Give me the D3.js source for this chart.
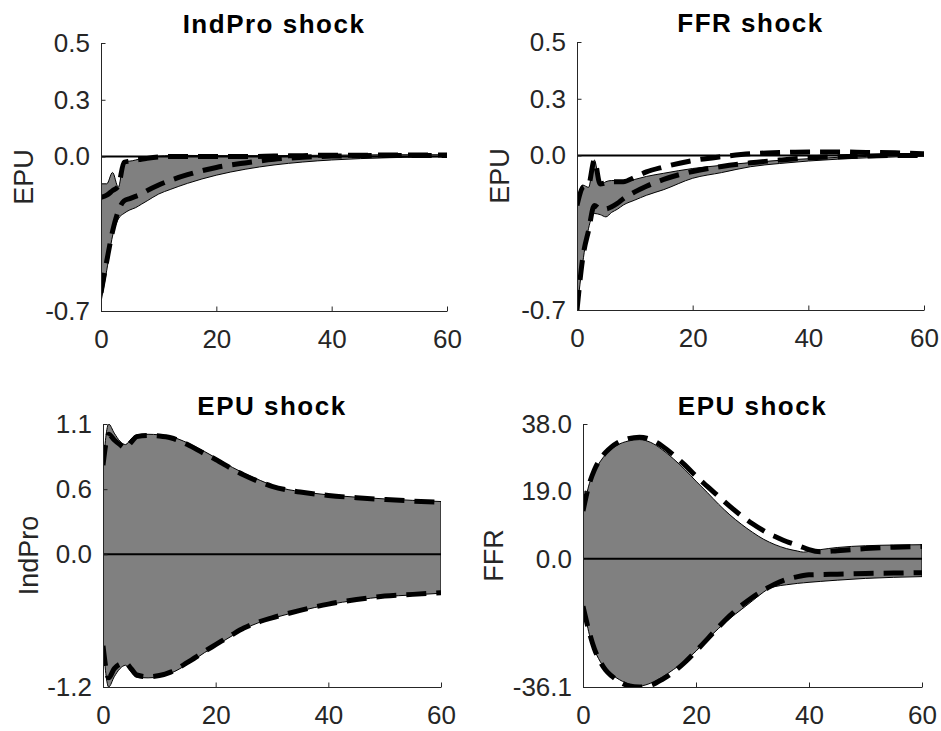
<!DOCTYPE html>
<html>
<head>
<meta charset="utf-8">
<script src="https://cdn.jsdelivr.net/npm/d3@7"></script>
<style>
  body { margin: 0; background: #fff; }
  text { font-family: "Liberation Sans", Arial, sans-serif; }
</style>
</head>
<body>
<div id="root"></div>
<script>
// horizons (months)
var hTop = [0, 1, 2, 3, 4, 5, 6, 7, 8, 10, 12, 15, 20, 25, 30, 35, 40, 45, 50, 55, 60];
var hIp = [0, 1, 2, 3, 4, 5, 6, 8, 10, 12, 15, 18, 20, 23, 25, 28, 30, 33, 35, 40, 45, 50, 55, 60];
var hFfr = [0, 1, 2, 3, 4, 5, 6, 8, 10, 12, 14, 16, 18, 20, 22, 24, 26, 28, 30, 32, 33, 34, 36, 38, 39, 40, 42, 45, 50, 55, 60];

// IndPro shock -> EPU
var ipEpuBandHi = [-0.12, -0.12, -0.07, -0.135, -0.02, -0.02, -0.015, -0.01, -0.005, 0.002, 0.004, 0.005, 0.004, 0.004, 0.004, 0.005, 0.006, 0.007, 0.008, 0.008, 0.008];
var ipEpuBandLo = [-0.64, -0.50, -0.35, -0.275, -0.25, -0.235, -0.225, -0.21, -0.195, -0.165, -0.145, -0.118, -0.082, -0.056, -0.037, -0.024, -0.015, -0.009, -0.005, -0.002, 0.0];
var ipEpuDashHi = [-0.18, -0.17, -0.15, -0.13, -0.025, -0.02, -0.015, -0.012, -0.008, -0.002, 0.0, 0.0, 0.0, 0.0, 0.002, 0.004, 0.006, 0.006, 0.007, 0.007, 0.007];
var ipEpuDashLo = [-0.60, -0.46, -0.33, -0.24, -0.195, -0.185, -0.175, -0.165, -0.15, -0.125, -0.105, -0.08, -0.048, -0.028, -0.012, -0.003, 0.002, 0.004, 0.005, 0.005, 0.005];

// FFR shock -> EPU
var ffrEpuBandHi = [-0.20, -0.13, -0.14, -0.02, -0.13, -0.115, -0.11, -0.11, -0.115, -0.105, -0.092, -0.078, -0.057, -0.043, -0.031, -0.021, -0.014, -0.008, -0.004, 0.0, 0.002];
var ffrEpuBandLo = [-0.68, -0.47, -0.32, -0.255, -0.26, -0.27, -0.25, -0.236, -0.218, -0.196, -0.175, -0.15, -0.10, -0.075, -0.049, -0.035, -0.024, -0.016, -0.01, -0.006, -0.003];
var ffrEpuDashHi = [-0.22, -0.14, -0.13, -0.02, -0.125, -0.12, -0.115, -0.115, -0.115, -0.095, -0.072, -0.05, -0.022, -0.005, 0.008, 0.013, 0.016, 0.016, 0.014, 0.012, 0.008];
var ffrEpuDashLo = [-0.68, -0.45, -0.33, -0.22, -0.235, -0.235, -0.225, -0.21, -0.19, -0.16, -0.135, -0.105, -0.07, -0.048, -0.032, -0.02, -0.01, -0.005, -0.002, 0.0, 0.0];

// EPU shock -> IndPro
var epuIpBandHi = [0.77, 1.14, 1.06, 0.99, 0.96, 1.01, 1.045, 1.05, 1.045, 1.03, 0.975, 0.90, 0.845, 0.76, 0.71, 0.645, 0.605, 0.565, 0.55, 0.52, 0.50, 0.485, 0.472, 0.462];
var epuIpBandLo = [-0.78, -1.16, -1.07, -1.0, -0.97, -1.03, -1.075, -1.08, -1.07, -1.04, -0.96, -0.86, -0.80, -0.71, -0.655, -0.59, -0.56, -0.52, -0.495, -0.44, -0.40, -0.37, -0.355, -0.34];
var epuIpDashHi = [0.78, 1.05, 1.0, 0.96, 0.93, 0.98, 1.03, 1.04, 1.035, 1.02, 0.96, 0.88, 0.83, 0.745, 0.695, 0.63, 0.595, 0.56, 0.545, 0.515, 0.495, 0.48, 0.466, 0.455];
var epuIpDashLo = [-0.80, -1.08, -1.0, -0.96, -0.95, -1.0, -1.055, -1.07, -1.06, -1.03, -0.945, -0.85, -0.79, -0.70, -0.645, -0.585, -0.555, -0.515, -0.49, -0.435, -0.395, -0.365, -0.35, -0.335];

// EPU shock -> FFR
var epuFfrBandHi = [12.9, 20.5, 24.5, 27.3, 29.4, 30.9, 32.0, 33.2, 33.6, 32.8, 30.8, 28.2, 25.2, 21.9, 18.7, 15.4, 12.4, 9.8, 7.5, 5.5, 4.7, 4.0, 2.9, 2.2, 1.9, 2.1, 2.6, 3.2, 3.7, 3.9, 4.0];
var epuFfrBandLo = [-12, -20.5, -25.5, -28.8, -31.0, -32.5, -33.6, -35.2, -35.8, -35.0, -33.3, -31.2, -28.8, -26.0, -22.7, -19.6, -16.8, -14.3, -11.8, -9.3, -8.3, -7.8, -7.3, -6.9, -6.75, -6.6, -6.35, -6.0, -5.5, -5.2, -5.0];
var epuFfrDashHi = [13.5, 20.5, 25, 28, 30, 31.5, 32.6, 33.9, 34.3, 33.6, 31.8, 29.3, 26.5, 23.3, 20.4, 17.6, 14.8, 12.2, 9.9, 7.9, 7.0, 6.3, 4.9, 3.8, 3.2, 2.6, 2.0, 2.3, 2.9, 3.3, 3.5];
var epuFfrDashLo = [-13.4, -20, -25.3, -28.8, -31.3, -32.9, -34.1, -35.7, -36.1, -35.6, -34.0, -31.9, -29.2, -26.0, -22.6, -19.2, -16.0, -13.2, -10.8, -8.8, -7.9, -7.1, -5.8, -5.0, -4.7, -4.5, -4.4, -4.3, -4.1, -4.0, -3.9];

// axis ranges and tick labels
var xTicks = [0, 20, 40, 60];
var epuRange = [-0.68, 0.5];
var epuTicks = [-0.68, 0, 0.25, 0.5];
var epuTickLabels = ["-0.7", "0.0", "0.3", "0.5"];
var ipRange = [-1.16, 1.14];
var ipTicks = [-1.16, 0, 0.57, 1.14];
var ipTickLabels = ["-1.2", "0.0", "0.6", "1.1"];
var ffrRange = [-36.1, 38.0];
var ffrTicks = [-36.1, 0, 19, 38];
var ffrTickLabels = ["-36.1", "0.0", "19.0", "38.0"];

var W = 941, H = 731;
var svg = d3.select("#root").append("svg").attr("width", W).attr("height", H);
svg.append("rect").attr("width", W).attr("height", H).attr("fill", "white");

var panels = [
  { title: "IndPro shock", ylab: "EPU", box: [101, 43, 447, 311], labX: 33, titleY: 33,
    h: hTop, hi: ipEpuBandHi, lo: ipEpuBandLo, dHi: ipEpuDashHi, dLo: ipEpuDashLo,
    range: epuRange, ticks: epuTicks, labels: epuTickLabels },
  { title: "FFR shock", ylab: "EPU", box: [577, 42, 924, 310], labX: 509, titleY: 32,
    h: hTop, hi: ffrEpuBandHi, lo: ffrEpuBandLo, dHi: ffrEpuDashHi, dLo: ffrEpuDashLo,
    range: epuRange, ticks: epuTicks, labels: epuTickLabels },
  { title: "EPU shock", ylab: "IndPro", box: [103, 424, 441, 687], labX: 38, titleY: 415,
    h: hIp, hi: epuIpBandHi, lo: epuIpBandLo, dHi: epuIpDashHi, dLo: epuIpDashLo,
    range: ipRange, ticks: ipTicks, labels: ipTickLabels },
  { title: "EPU shock", ylab: "FFR", box: [583, 424, 922, 687], labX: 503, titleY: 415,
    h: hFfr, hi: epuFfrBandHi, lo: epuFfrBandLo, dHi: epuFfrDashHi, dLo: epuFfrDashLo,
    range: ffrRange, ticks: ffrTicks, labels: ffrTickLabels }
];

panels.forEach(function(p, k) {
  var x0 = p.box[0], y0 = p.box[1], x1 = p.box[2], y1 = p.box[3];
  var x = d3.scaleLinear().domain([0, 60]).range([x0, x1]);
  var y = d3.scaleLinear().domain(p.range).range([y1, y0]);
  var g = svg.append("g");

  // clip to the axes box
  svg.append("clipPath").attr("id", "clip" + k).append("rect")
    .attr("x", x0).attr("y", y0).attr("width", x1 - x0).attr("height", y1 - y0);
  var plot = g.append("g").attr("clip-path", "url(#clip" + k + ")");

  var rows = p.h.map(function(h, i) {
    return { h: h, hi: p.hi[i], lo: p.lo[i], dHi: p.dHi[i], dLo: p.dLo[i] };
  });

  // band
  var area = d3.area().curve(d3.curveMonotoneX)
    .x(function(d) { return x(d.h); })
    .y0(function(d) { return y(d.lo); })
    .y1(function(d) { return y(d.hi); });
  plot.append("path").datum(rows).attr("d", area)
    .attr("fill", "#808080").attr("stroke", "#000").attr("stroke-width", 1);

  // zero line
  plot.append("line")
    .attr("x1", x(0)).attr("x2", x(60)).attr("y1", y(0)).attr("y2", y(0))
    .attr("stroke", "#000").attr("stroke-width", 2);

  // dashed bounds
  ["dHi", "dLo"].forEach(function(key) {
    var line = d3.line().curve(d3.curveMonotoneX)
      .x(function(d) { return x(d.h); })
      .y(function(d) { return y(d[key]); });
    plot.append("path").datum(rows).attr("d", line)
      .attr("fill", "none").attr("stroke", "#000").attr("stroke-width", 5)
      .attr("stroke-dasharray", "20,10");
  });

  // axes
  var yAxis = d3.axisLeft(y).tickValues(p.ticks)
    .tickFormat(function(d, i) { return p.labels[i]; })
    .tickSizeInner(-4.5).tickSizeOuter(0).tickPadding(11);
  var xAxis = d3.axisBottom(x).tickValues(xTicks)
    .tickSizeInner(-4.5).tickSizeOuter(0).tickPadding(18.5);

  var ya = g.append("g").attr("transform", "translate(" + x0 + ",0)").call(yAxis);
  var xa = g.append("g").attr("transform", "translate(0," + y1 + ")").call(xAxis);
  [ya, xa].forEach(function(a) {
    a.attr("font-family", null).attr("font-size", null);
    a.select(".domain").attr("stroke", "#262626").attr("stroke-width", 1);
    a.selectAll(".tick line").attr("stroke", "#262626").attr("stroke-width", 1);
    a.selectAll(".tick text").attr("fill", "#262626").style("font-size", "26px");
  });

  // title
  g.append("text").attr("x", (x0 + x1) / 2).attr("y", p.titleY)
    .attr("text-anchor", "middle").style("font-size", "26px").style("font-weight", "bold")
    .style("letter-spacing", "1.5px").attr("fill", "#000").text(p.title);

  // y label
  g.append("text")
    .attr("transform", "translate(" + p.labX + "," + ((y0 + y1) / 2) + ") rotate(-90)")
    .attr("text-anchor", "middle").style("font-size", "27px").attr("fill", "#262626")
    .text(p.ylab);
});
</script>
</body>
</html>
